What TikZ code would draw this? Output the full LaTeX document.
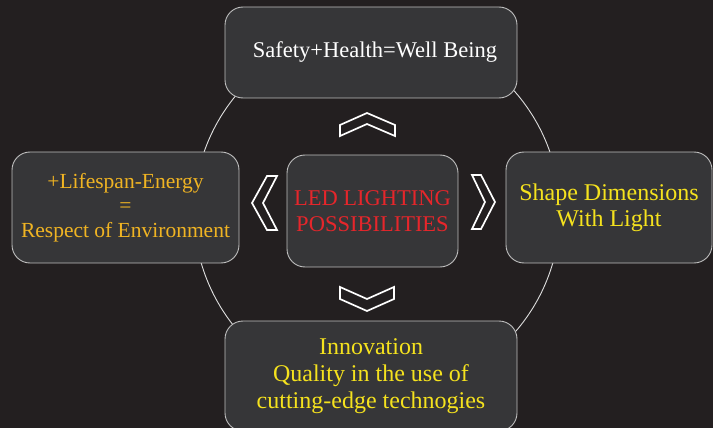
\documentclass[tikz,border=0pt]{standalone}
\usepackage{fontspec}
\setmainfont{Liberation Serif}
\usepackage{xcolor}
\usepackage{tikz}
\usetikzlibrary{calc,positioning}

\definecolor{bgdark}{RGB}{35,31,32}
\definecolor{boxfill}{RGB}{54,54,56}
\definecolor{boxline}{RGB}{190,190,190}
\definecolor{ledred}{RGB}{230,38,43}
\definecolor{ledorange}{RGB}{240,180,35}
\definecolor{ledyellow}{RGB}{245,226,30}

\begin{document}
\begin{tikzpicture}[x=1pt,y=-1pt, line cap=round,line join=round,
  box/.style={draw=boxline, fill=boxfill, line width=0.9pt, rounded corners=18pt,
              inner sep=0pt, align=center},
  chev/.style={draw=white, line width=1.7pt, line join=miter},
  ring/.style={draw=white!88!black, line width=0.9pt}]
\useasboundingbox (0,0) rectangle (713,428);
\fill[bgdark] (0,0) rectangle (713,428);
% big ring behind the boxes
\coordinate (hub) at (377,212);
\draw[ring] (hub) circle (183pt);
% boxes
\node[box, minimum width=292, minimum height=91, text=white,
      font=\fontsize{22.5}{26}\selectfont] (safety) at (371,52.5)
      {\hspace*{8pt}Safety+Health=Well Being};
\node[box, minimum width=227, minimum height=111, text=ledorange,
      font=\fontsize{21.5}{24.5}\selectfont] (lifespan) at (125.5,207.5)
      {+Lifespan-Energy\\=\\Respect of Environment};
\node[box, minimum width=171, minimum height=112, text=ledred,
      font=\fontsize{22.5}{26}\selectfont] (led) at (372.5,211)
      {LED LIGHTING\\POSSIBILITIES};
\node[box, minimum width=206, minimum height=111, text=ledyellow,
      font=\fontsize{24}{26}\selectfont] (shape) at (609,207.5)
      {Shape Dimensions\\With Light};
\node[box, minimum width=292, minimum height=110, text=ledyellow,
      font=\fontsize{24}{27}\selectfont] (innov) at (371,376)
      {Innovation\\Quality in the use of\\cutting-edge technogies};
% chevrons
\draw[chev] (340,125) -- (367,113) -- (395,125) -- (395,136) -- (367,124) -- (340,136) -- cycle;
\draw[chev] (340,287) -- (367,299) -- (394,287) -- (394,299) -- (367,311) -- (340,299) -- cycle;
\draw[chev] (267,176) -- (252,203) -- (267,230) -- (277,230) -- (263,203) -- (277,176) -- cycle;
\draw[chev] (472,175) -- (485,202) -- (472,229) -- (481,229) -- (495,202) -- (481,175) -- cycle;
\end{tikzpicture}
\end{document}
